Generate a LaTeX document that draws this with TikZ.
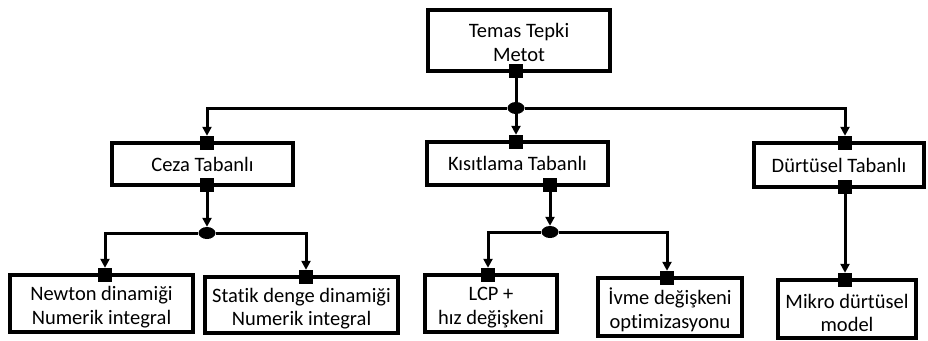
\documentclass[tikz,border=0pt]{standalone}
\usepackage{fontspec}
\setmainfont{Carlito}[Ligatures=NoCommon]
\usetikzlibrary{arrows.meta,shapes.geometric}
% taller first line: pushes two-line labels a little below the box centre
\newcommand{\lowstrut}{\rule{0pt}{22pt}}
\begin{document}
\begin{tikzpicture}[x=1pt,y=-1pt,
  box/.style={draw=black,line width=4.2pt,fill=white,rectangle,inner sep=0pt,
    align=center,font=\fontsize{20.5}{23.5}\selectfont},
  port/.style={fill=black,rectangle,minimum width=14pt,minimum height=14pt,inner sep=0pt},
  junction/.style={fill=black,ellipse,minimum width=17pt,minimum height=12pt,inner sep=0pt},
  link/.style={line width=3pt,line join=miter},
  arr/.style={link,-{Triangle[length=9pt,width=9pt]}}]
\useasboundingbox (0,0) rectangle (928,340);

% boxes
\node[box,minimum width=182pt,minimum height=61pt] (root) at (519,40.5) {\rule{0pt}{18pt}Temas Tepki\\Metot};
\node[box,minimum width=181pt,minimum height=42pt] (ceza) at (202.5,164) {Ceza Tabanlı};
\node[box,minimum width=181pt,minimum height=43pt] (kisit) at (517.5,163.5) {Kısıtlama Tabanlı};
\node[box,minimum width=170pt,minimum height=44pt] (durt) at (839,165) {Dürtüsel Tabanlı};
\node[box,minimum width=183pt,minimum height=57pt] (newton) at (101.5,303.5) {\lowstrut Newton dinamiği\\Numerik integral};
\node[box,minimum width=193pt,minimum height=56pt] (statik) at (301.5,305) {\lowstrut Statik denge dinamiği\\Numerik integral};
\node[box,minimum width=132pt,minimum height=57pt] (lcp) at (491,303.5) {\lowstrut LCP +\\hız değişkeni};
\node[box,minimum width=144pt,minimum height=58pt] (ivme) at (670,307) {\lowstrut İvme değişkeni\\optimizasyonu};
\node[box,minimum width=138pt,minimum height=58pt] (mikro) at (847,309) {\lowstrut Mikro dürtüsel\\model};

% connection ports on box edges
\node[port] (root-o) at (516,71) {};
\node[port] (ceza-i) at (207,143) {};
\node[port] (ceza-o) at (207,185) {};
\node[port] (kisit-i) at (516,142) {};
\node[port] (kisit-o) at (550,185) {};
\node[port] (durt-i) at (845,143) {};
\node[port] (durt-o) at (845,187) {};
\node[port] (newton-i) at (105,275) {};
\node[port] (statik-i) at (306,277) {};
\node[port] (lcp-i) at (488,275) {};
\node[port] (ivme-i) at (667,278) {};
\node[port] (mikro-i) at (845,280) {};

% branching junctions
\node[junction] (j0) at (516,108) {};
\node[junction] (j1) at (207,233) {};
\node[junction] (j2) at (550,232) {};

% connectors
\draw[link] (root-o) -- (j0);
\draw[arr] (j0) -- (kisit-i);
\draw[arr] (j0) -| (ceza-i);
\draw[arr] (j0) -| (durt-i);

\draw[arr] (ceza-o) -- (j1);
\draw[arr] (j1) -| (newton-i);
\draw[arr] (j1) -| (statik-i);

\draw[arr] (kisit-o) -- (j2);
\draw[arr] (j2) -| (lcp-i);
\draw[arr] (j2) -| (ivme-i);

\draw[arr] (durt-o) -- (mikro-i);
\end{tikzpicture}
\end{document}
